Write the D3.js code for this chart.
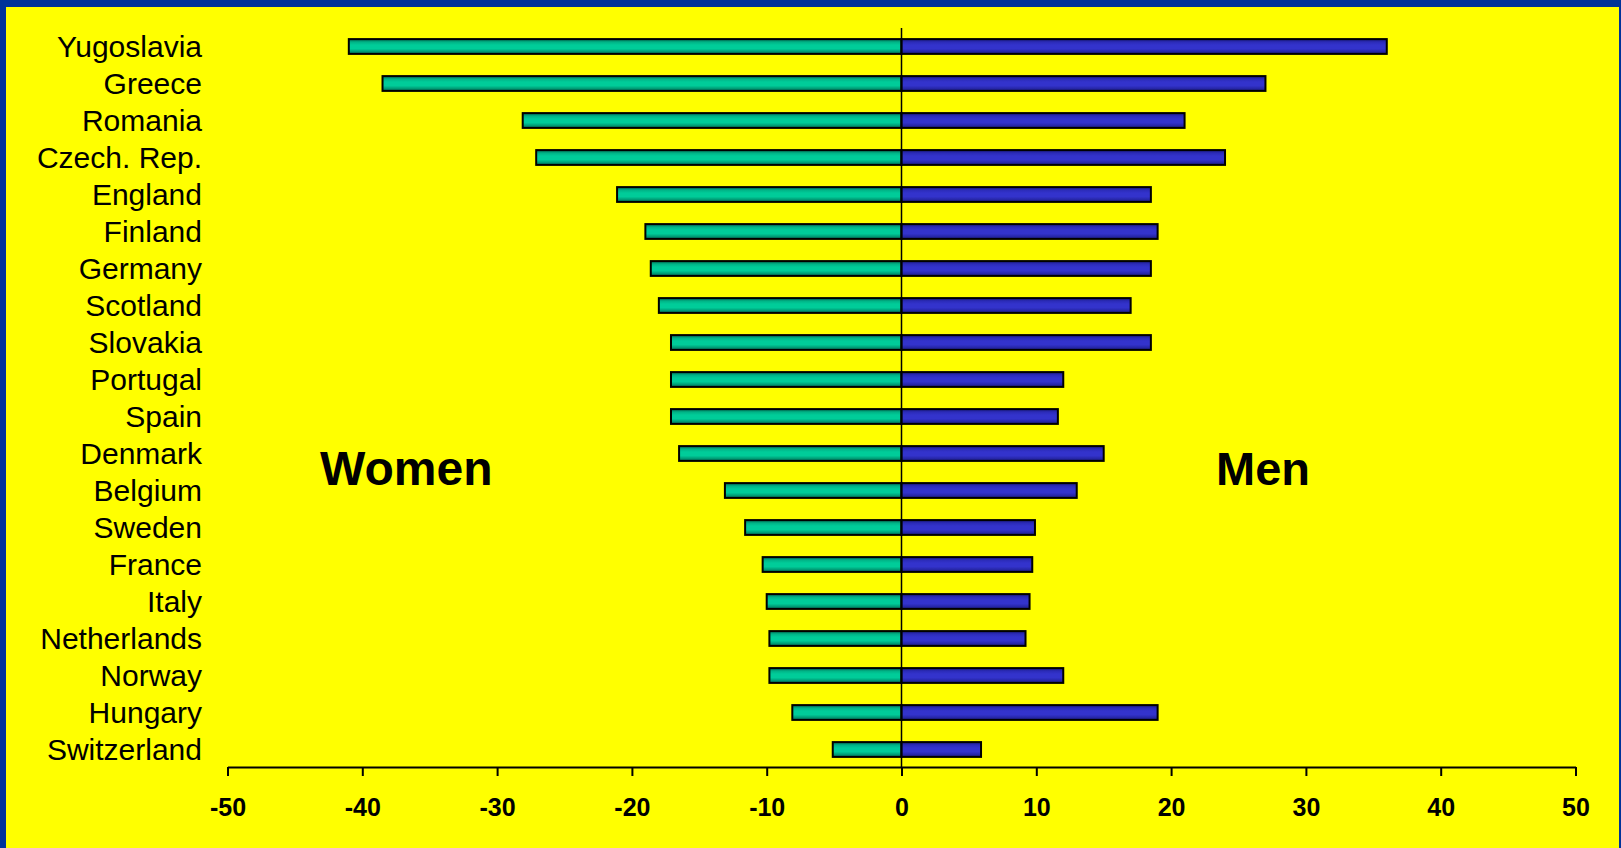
<!DOCTYPE html>
<html>
<head>
<meta charset="utf-8">
<script src="https://cdn.jsdelivr.net/npm/d3@7"></script>
<style>
  html, body { margin: 0; padding: 0; background: #003399; }
  svg { display: block; }
</style>
</head>
<body>
<script>
const countries = ['Yugoslavia', 'Greece', 'Romania', 'Czech. Rep.', 'England', 'Finland',
  'Germany', 'Scotland', 'Slovakia', 'Portugal', 'Spain', 'Denmark', 'Belgium', 'Sweden',
  'France', 'Italy', 'Netherlands', 'Norway', 'Hungary', 'Switzerland'];
const women = [-41.0, -38.5, -28.1, -27.1, -21.1, -19.0, -18.6, -18.0, -17.1, -17.1,
  -17.1, -16.5, -13.1, -11.6, -10.3, -10.0, -9.8, -9.8, -8.1, -5.1];
const men = [36.0, 27.0, 21.0, 24.0, 18.5, 19.0, 18.5, 17.0, 18.5, 12.0,
  11.6, 15.0, 13.0, 9.9, 9.7, 9.5, 9.2, 12.0, 19.0, 5.9];
const ticks = [-50, -40, -30, -20, -10, 0, 10, 20, 30, 40, 50];

const width = 1621;
const height = 848;

const svg = d3.select('body')
  .append('svg')
  .attr('width', width)
  .attr('height', height);

// blue frame (no frame at the bottom), yellow panel
svg.append('rect')
  .attr('x', 6).attr('y', 7)
  .attr('width', width - 8).attr('height', height - 7)
  .attr('fill', '#ffff00');

const defs = svg.append('defs');
function grad(id, stops) {
  const g = defs.append('linearGradient')
    .attr('id', id)
    .attr('x1', 0).attr('y1', 0).attr('x2', 0).attr('y2', 1);
  stops.forEach(s => g.append('stop').attr('offset', s[0]).attr('stop-color', s[1]));
}
grad('gw', [[0, '#006650'], [0.2, '#00b386'], [0.4, '#00cc99'], [0.65, '#00cc99'], [0.85, '#009973'], [1, '#00664d']]);
grad('gm', [[0, '#1a1a80'], [0.2, '#2b2bb8'], [0.4, '#3333cc'], [0.65, '#3333cc'], [0.85, '#2626a6'], [1, '#1a1a73']]);

const x = d3.scaleLinear()
  .domain([-50, 50])
  .range([227.5, 1575.5]);

const y = d3.scaleBand()
  .domain(countries)
  .range([28, 768])
  .paddingInner(0.6)
  .paddingOuter(0.3);

const bh = y.bandwidth();

svg.append('g')
  .selectAll('rect')
  .data(countries)
  .join('rect')
  .attr('x', (d, i) => x(women[i]))
  .attr('y', d => y(d))
  .attr('width', (d, i) => x(0) - x(women[i]))
  .attr('height', bh)
  .attr('fill', 'url(#gw)')
  .attr('stroke', '#000')
  .attr('stroke-width', 2);

svg.append('g')
  .selectAll('rect')
  .data(countries)
  .join('rect')
  .attr('x', x(0))
  .attr('y', d => y(d))
  .attr('width', (d, i) => x(men[i]) - x(0))
  .attr('height', bh)
  .attr('fill', 'url(#gm)')
  .attr('stroke', '#000')
  .attr('stroke-width', 2);

// zero line
svg.append('line')
  .attr('x1', x(0)).attr('x2', x(0))
  .attr('y1', 28).attr('y2', 767)
  .attr('stroke', '#000')
  .attr('stroke-width', 1.5);

// country labels
svg.append('g')
  .selectAll('text')
  .data(countries)
  .join('text')
  .attr('x', 202)
  .attr('y', d => y(d) + bh / 2)
  .attr('dy', '0.35em')
  .attr('text-anchor', 'end')
  .attr('font-family', 'Liberation Sans, Arial, sans-serif')
  .attr('font-size', 30)
  .attr('fill', '#000')
  .text(d => d);

// x axis
const xAxis = d3.axisBottom(x)
  .tickValues(ticks)
  .tickFormat(d => String(d))
  .tickSize(9)
  .tickPadding(22)
  .tickSizeOuter(0);

const xg = svg.append('g')
  .attr('transform', 'translate(0, 767)')
  .call(xAxis);
xg.select('.domain').attr('stroke', '#000').attr('stroke-width', 2);
xg.selectAll('.tick line').attr('stroke', '#000').attr('stroke-width', 2);
xg.selectAll('.tick text')
  .attr('font-family', 'Liberation Sans, Arial, sans-serif')
  .attr('font-weight', 'bold')
  .attr('font-size', 25)
  .attr('fill', '#000');

svg.append('text')
  .attr('x', 320)
  .attr('y', 485)
  .attr('font-family', 'Liberation Sans, Arial, sans-serif')
  .attr('font-weight', 'bold')
  .attr('font-size', 48)
  .text('Women');

svg.append('text')
  .attr('x', 1216)
  .attr('y', 485)
  .attr('font-family', 'Liberation Sans, Arial, sans-serif')
  .attr('font-weight', 'bold')
  .attr('font-size', 47)
  .text('Men');
</script>
</body>
</html>
